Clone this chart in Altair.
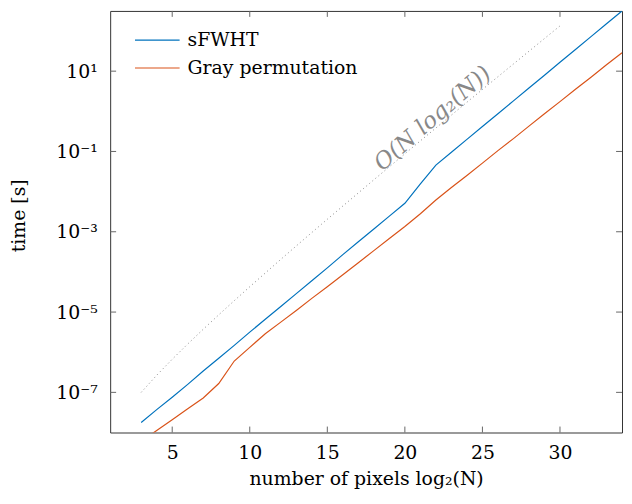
import altair as alt
import pandas as pd

# ---- data ----
x_vals = list(range(3, 35))
sfwht = [1.78e-8, 3.72e-8, 7.59e-8, 1.58e-7, 3.39e-7, 7.08e-7, 1.48e-6, 3.16e-6,
         6.61e-6, 1.38e-5, 2.88e-5, 6.03e-5, 1.26e-4, 2.69e-4, 5.62e-4, 1.17e-3,
         2.45e-3, 5.13e-3, 1.55e-2, 4.57e-2, 9.55e-2, 0.200, 0.417, 0.871,
         1.82, 3.80, 7.94, 16.6, 34.7, 72.4, 151, 316]
gray = [6.03e-9, 1.12e-8, 2.09e-8, 3.89e-8, 7.24e-8, 1.66e-7, 6.03e-7, 1.32e-6,
        2.88e-6, 5.62e-6, 1.10e-5, 2.19e-5, 4.27e-5, 8.51e-5, 1.70e-4, 3.39e-4,
        6.76e-4, 1.35e-3, 2.82e-3, 6.17e-3, 1.26e-2, 2.51e-2, 5.13e-2, 0.105,
        0.209, 0.427, 0.871, 1.74, 3.55, 7.08, 14.5, 28.8]
ref_x = list(range(3, 31))
ref_t = [1.00e-7, 2.67e-7, 6.67e-7, 1.60e-6, 3.73e-6, 8.53e-6, 1.92e-5, 4.27e-5,
         9.39e-5, 2.05e-4, 4.44e-4, 9.56e-4, 2.05e-3, 4.37e-3, 9.28e-3, 1.97e-2,
         4.15e-2, 8.74e-2, 0.184, 0.384, 0.804, 1.68, 3.50, 7.27, 15.1, 31.3,
         64.9, 134]
series_names = ["sFWHT", "Gray permutation"]
series_colors = ["#0072BD", "#D95319"]
ref_label = ["O(N log\u2082(N))"]
ref_label_x = [21.8]
ref_label_y = [0.66]

x_ticks = [5, 10, 15, 20, 25, 30]
y_ticks = [1e-7, 1e-5, 1e-3, 1e-1, 1e1]
y_tick_labels = ["10\u207b\u2077", "10\u207b\u2075", "10\u207b\u00b3", "10\u207b\u00b9", "10\u00b9"]
x_domain = [1, 34]
y_domain = [1e-8, 316.2]

# ---- tables ----
df = pd.DataFrame({
    "x": x_vals + x_vals,
    "time": sfwht + gray,
    "series": [series_names[0]] * len(x_vals) + [series_names[1]] * len(x_vals),
})
ref_df = pd.DataFrame({"x": ref_x, "time": ref_t})
lab_df = pd.DataFrame({"x": ref_label_x, "time": ref_label_y, "label": ref_label})
xt_df = pd.DataFrame({"x": x_ticks})
yt_df = pd.DataFrame({"time": y_ticks})

# label expression for y ticks
expr = "'" + y_tick_labels[-1] + "'"
for v, lab in reversed(list(zip(y_ticks[:-1], y_tick_labels[:-1]))):
    expr = f"datum.value < {v * 3:g} ? '{lab}' : " + expr

FONT = "DejaVu Serif"
W, H = 516, 425
TICK = 6
TICK_COLOR = "#666"

xscale = alt.Scale(domain=x_domain, nice=False, zero=False)
yscale = alt.Scale(type="log", domain=y_domain, nice=False)

x_axis = alt.Axis(orient="bottom", values=x_ticks, ticks=False, tickSize=0,
                  domain=False, grid=False,
                  labelPadding=11, labelFont=FONT, labelFontSize=19,
                  labelColor="black", titleFont=FONT, titleFontSize=19,
                  titleFontWeight="normal", titleColor="black",
                  titleX=W / 2, titleY=52, titleBaseline="alphabetic")
y_axis = alt.Axis(orient="left", values=y_ticks, labelExpr=expr, ticks=False,
                  tickSize=0, domain=False, grid=False,
                  labelPadding=13, labelFont=FONT, labelFontSize=19,
                  labelColor="black", titleFont=FONT, titleFontSize=19,
                  titleFontWeight="normal", titleColor="black", titleX=-86,
                  titleY=206, titleAngle=270, titleBaseline="alphabetic")
X_TITLE = "number of pixels log\u2082(N)"
Y_TITLE = "time [s]"


def xenc():
    return alt.X("x:Q", scale=xscale, title=X_TITLE, axis=x_axis)


def yenc():
    return alt.Y("time:Q", scale=yscale, title=Y_TITLE, axis=y_axis)


lines = alt.Chart(df).mark_line(clip=True, strokeWidth=1.2).encode(
    x=xenc(),
    y=yenc(),
    color=alt.Color("series:N",
                    scale=alt.Scale(domain=series_names, range=series_colors),
                    sort=series_names,
                    legend=alt.Legend(orient="none", legendX=37.5, legendY=19.5,
                                      title="", symbolType="M-2.5,0H2.5",
                                      symbolSize=324, symbolStrokeWidth=1.2,
                                      labelOffset=20.5, rowPadding=8, padding=0,
                                      labelFont=FONT, labelFontSize=19,
                                      labelColor="black", labelLimit=400)),
)

ref = alt.Chart(ref_df).mark_line(clip=True, color="#888", strokeDash=[1, 3],
                                  strokeWidth=1).encode(x=xenc(), y=yenc())

lab = alt.Chart(lab_df).mark_text(angle=319, font=FONT, fontStyle="italic",
                                  fontSize=23, color="#888", align="center",
                                  baseline="middle").encode(
    x=xenc(), y=yenc(), text="label:N")

# inward ticks on all four sides (short rules anchored at the frame edges)
tick_bottom = alt.Chart(xt_df).mark_rule(color=TICK_COLOR, strokeWidth=1).encode(
    x=xenc(), y=alt.value(H), y2=alt.value(H - TICK))
tick_top = alt.Chart(xt_df).mark_rule(color=TICK_COLOR, strokeWidth=1).encode(
    x=xenc(), y=alt.value(0), y2=alt.value(TICK))
tick_left = alt.Chart(yt_df).mark_rule(color=TICK_COLOR, strokeWidth=1).encode(
    y=yenc(), x=alt.value(0), x2=alt.value(TICK))
tick_right = alt.Chart(yt_df).mark_rule(color=TICK_COLOR, strokeWidth=1).encode(
    y=yenc(), x=alt.value(W), x2=alt.value(W - TICK))

chart = alt.layer(ref, lines, lab, tick_bottom, tick_top, tick_left, tick_right).properties(
    width=W, height=H,
    autosize=alt.AutoSizeParams(type="none"),
    padding={"left": 103, "top": 1, "right": 2, "bottom": 57},
).configure_view(stroke="#333", strokeWidth=1)

chart.save("out.html", embed_options={"renderer": "svg", "actions": False})
